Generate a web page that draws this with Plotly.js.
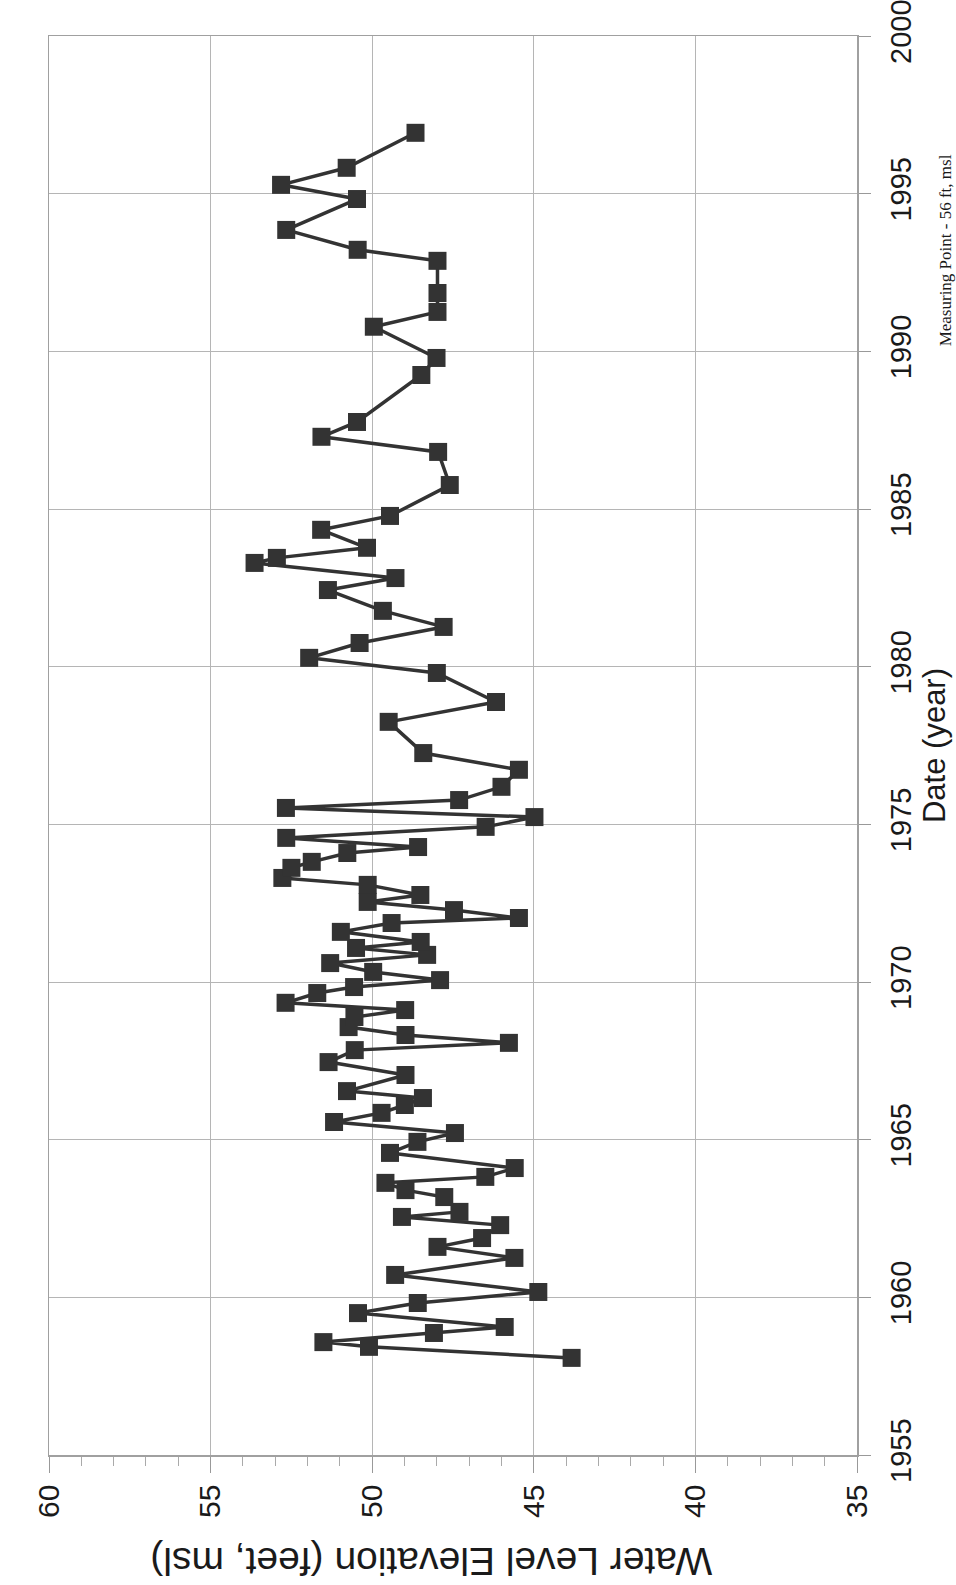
<!DOCTYPE html>
<html>
<head>
<meta charset="utf-8">
<script src="https://cdn.plot.ly/plotly-3.0.1.min.js"></script>
<style>
html,body{margin:0;padding:0;background:#fff;}
#chart{width:956px;height:1585px;}
</style>
</head>
<body>
<div id="chart"></div>
<script>
// Date of measurement (decimal year)
const dates = [1958.08,1958.43,1958.58,1958.87,1959.06,1959.50,1959.82,1960.17,1960.71,1961.25,
  1961.60,1961.88,1962.29,1962.55,1962.71,1963.18,1963.40,1963.63,1963.82,1964.10,
  1964.58,1964.93,1965.21,1965.56,1965.85,1966.10,1966.32,1966.54,1967.05,1967.46,
  1967.84,1968.07,1968.32,1968.57,1968.89,1969.11,1969.34,1969.65,1969.84,1970.06,
  1970.32,1970.60,1970.86,1971.08,1971.27,1971.59,1971.87,1972.03,1972.28,1972.54,
  1972.76,1973.08,1973.30,1973.62,1973.81,1974.09,1974.28,1974.57,1974.92,1975.23,
  1975.52,1975.77,1976.19,1976.73,1977.26,1978.25,1978.88,1979.80,1980.28,1980.75,
  1981.26,1981.77,1982.43,1982.81,1983.29,1983.45,1983.77,1984.34,1984.78,1985.76,
  1986.81,1987.29,1987.76,1989.25,1989.79,1990.78,1991.25,1991.85,1992.87,1993.22,
  1993.85,1994.83,1995.28,1995.82,1996.93];

// Water level elevation (feet, msl)
const elevation = [43.83,50.10,51.51,48.09,45.90,50.44,48.59,44.86,49.29,45.60,
  47.98,46.60,46.04,49.08,47.30,47.77,48.97,49.59,46.50,45.59,
  49.45,48.60,47.44,51.18,49.71,48.99,48.43,50.78,48.97,51.35,
  50.54,45.77,48.97,50.73,50.55,48.98,52.68,51.70,50.56,47.90,
  49.97,51.30,48.30,50.50,48.50,50.97,49.40,45.46,47.47,50.14,
  48.51,50.14,52.78,52.50,51.87,50.77,48.58,52.66,46.49,44.98,
  52.67,47.31,46.00,45.46,48.42,49.49,46.17,48.00,51.95,50.39,
  47.79,49.67,51.37,49.28,53.64,52.95,50.16,51.58,49.45,47.60,
  47.96,51.57,50.47,48.48,48.01,49.95,47.98,47.98,47.98,50.45,
  52.66,50.47,52.82,50.79,48.66];

const elevTicks = [60, 55, 50, 45, 40, 35];
const yearTicks = [1955, 1960, 1965, 1970, 1975, 1980, 1985, 1990, 1995, 2000];

const fontSans = 'Liberation Sans, Arial, sans-serif';
const fontSerif = 'Liberation Serif, Times New Roman, serif';

const trace = {
  type: 'scatter',
  mode: 'lines+markers',
  x: elevation,
  y: dates,
  line: {color: '#333333', width: 3.5},
  marker: {symbol: 'square', size: 18, color: '#333333', line: {width: 0}},
  hoverinfo: 'x+y'
};

const layout = {
  width: 956,
  height: 1585,
  paper_bgcolor: '#ffffff',
  plot_bgcolor: '#ffffff',
  showlegend: false,
  margin: {l: 49, r: 99, t: 36, b: 130},
  font: {family: fontSans, color: '#1a1a1a'},
  xaxis: {
    range: [60, 35],
    tickvals: elevTicks,
    ticktext: elevTicks.map(String),
    tickangle: -90,
    tickfont: {size: 30, family: fontSans, color: '#1a1a1a'},
    ticks: 'outside',
    ticklen: 16,
    tickwidth: 1,
    tickcolor: '#999999',
    ticklabelstandoff: 0,
    ticklabeloverflow: 'allow',
    minor: {dtick: 1, ticks: 'outside', ticklen: 9, tickcolor: '#aaaaaa', showgrid: false},
    showline: true,
    mirror: true,
    linecolor: '#a0a0a0',
    linewidth: 1.5,
    showgrid: true,
    gridcolor: '#b5b5b5',
    gridwidth: 1,
    zeroline: false
  },
  yaxis: {
    range: [1955, 2000],
    side: 'right',
    tickvals: yearTicks,
    ticktext: yearTicks.map(String),
    tickangle: -90,
    tickfont: {size: 29, family: fontSans, color: '#1a1a1a'},
    ticks: 'outside',
    ticklen: 12,
    tickcolor: '#999999',
    ticklabelstandoff: 6,
    ticklabeloverflow: 'allow',
    showline: true,
    mirror: true,
    linecolor: '#a0a0a0',
    linewidth: 1.5,
    showgrid: true,
    gridcolor: '#b5b5b5',
    gridwidth: 1,
    zeroline: false,
    title: {text: 'Date (year)', font: {size: 31, family: fontSans, color: '#1a1a1a'}, standoff: 0}
  },
  annotations: [
    {
      text: 'Water Level Elevation (feet, msl)',
      xref: 'paper', yref: 'paper',
      x: 0.473, y: -0.0747,
      xanchor: 'center', yanchor: 'middle',
      textangle: 180,
      showarrow: false,
      font: {size: 39, family: fontSans, color: '#1a1a1a'}
    },
    {
      text: 'Measuring Point - 56 ft, msl',
      xref: 'paper', yref: 'paper',
      x: 1.109, y: 0.849,
      xanchor: 'center', yanchor: 'middle',
      textangle: -90,
      showarrow: false,
      font: {size: 17, family: fontSerif, color: '#1a1a1a'}
    }
  ]
};

Plotly.newPlot('chart', [trace], layout, {displayModeBar: false, staticPlot: true});
</script>
</body>
</html>
